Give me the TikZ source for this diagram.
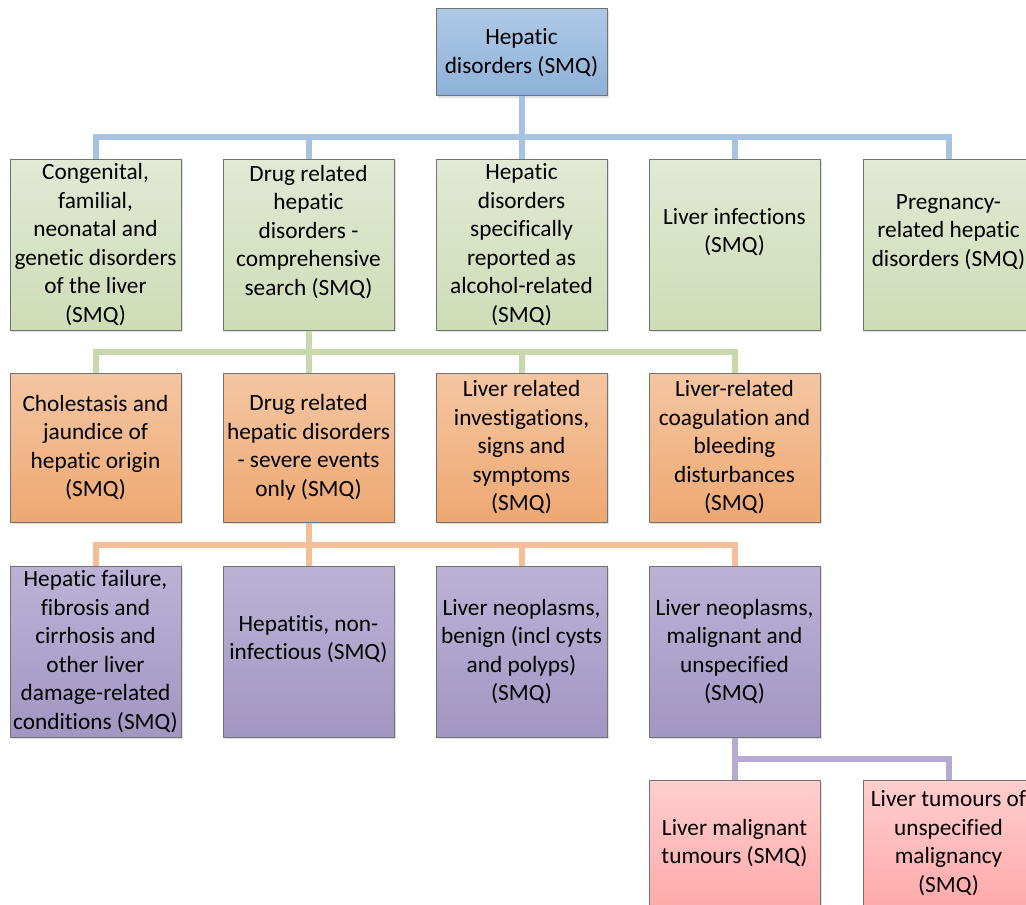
\documentclass[tikz,border=0pt]{standalone}
\usepackage{fontspec}
\setmainfont{Carlito}[Ligatures={NoCommon,NoContextual}]
\usepackage{tikz}
\usetikzlibrary{shadows}

\definecolor{bluetop}{RGB}{174,201,230}
\definecolor{bluebot}{RGB}{143,177,216}
\definecolor{blueline}{RGB}{166,196,226}
\definecolor{greentop}{RGB}{226,233,213}
\definecolor{greenbot}{RGB}{206,220,182}
\definecolor{greenline}{RGB}{201,216,170}
\definecolor{orangetop}{RGB}{245,198,162}
\definecolor{orangebot}{RGB}{237,168,114}
\definecolor{orangeline}{RGB}{245,190,150}
\definecolor{purpletop}{RGB}{188,178,214}
\definecolor{purplebot}{RGB}{162,150,194}
\definecolor{purpleline}{RGB}{180,170,210}
\definecolor{pinktop}{RGB}{255,206,206}
\definecolor{pinkbot}{RGB}{255,170,170}
\newcommand\smqfont{\fontsize{11.65}{14.25}\selectfont}

\begin{document}
\begin{tikzpicture}[x=0.5pt, y=-0.5pt, smq/.style={rectangle, draw=black!55, line width=0.5pt, align=center, inner sep=1pt, minimum width=85.5pt, font=\smqfont, drop shadow={shadow xshift=1.2pt, shadow yshift=-1.2pt, opacity=0.25}}, topbox/.style={smq, minimum height=43.5pt, top color=bluetop, bottom color=bluebot}, greenbox/.style={smq, minimum height=85.5pt, top color=greentop, bottom color=greenbot}, orangebox/.style={smq, minimum height=74.5pt, top color=orangetop, bottom color=orangebot}, purplebox/.style={smq, minimum height=85.5pt, top color=purpletop, bottom color=purplebot}, pinkbox/.style={smq, minimum height=63pt, top color=pinktop, bottom color=pinkbot}, link/.style={line width=3pt}]

    \useasboundingbox (0,0) rectangle (1026,904);

    %Nodes
    \node[topbox](hepatic) at (521.5,52.5){Hepatic\\disorders (SMQ)};

    \node[greenbox](congenital) at (95.5,244.5){Congenital,\\familial,\\neonatal and\\genetic disorders\\of the liver\\(SMQ)};
    \node[greenbox](drugcomp) at (308.5,244.5){Drug related\\hepatic\\disorders -\\comprehensive\\search (SMQ)\\\mbox{}};
    \node[greenbox](alcohol) at (521.5,244.5){Hepatic\\disorders\\specifically\\reported as\\alcohol-related\\(SMQ)};
    \node[greenbox](infections) at (734.5,244.5){Liver infections\\(SMQ)\\\mbox{}};
    \node[greenbox](pregnancy) at (948.5,244.5){Pregnancy-\\related hepatic\\disorders (SMQ)\\\mbox{}};

    \node[orangebox](cholestasis) at (95.5,447.5){Cholestasis and\\jaundice of\\hepatic origin\\(SMQ)};
    \node[orangebox](drugsevere) at (308.5,447.5){Drug related\\hepatic disorders\\- severe events\\only (SMQ)};
    \node[orangebox](investig) at (521.5,447.5){Liver related\\investigations,\\signs and\\symptoms\\(SMQ)};
    \node[orangebox](coagulation) at (734.5,447.5){Liver-related\\coagulation and\\bleeding\\disturbances\\(SMQ)};

    \node[purplebox](failure) at (95.5,651.5){Hepatic failure,\\fibrosis and\\cirrhosis and\\other liver\\damage-related\\conditions (SMQ)};
    \node[purplebox](hepatitis) at (308.5,651.5){Hepatitis, non-\\infectious (SMQ)\\\mbox{}};
    \node[purplebox](benign) at (521.5,651.5){Liver neoplasms,\\benign (incl cysts\\and polyps)\\(SMQ)};
    \node[purplebox](malignant) at (734.5,651.5){Liver neoplasms,\\malignant and\\unspecified\\(SMQ)};

    \node[pinkbox](tumours) at (734.5,843){Liver malignant\\tumours (SMQ)};
    \node[pinkbox](unspecified) at (948.5,843){Liver tumours of\\unspecified\\malignancy\\(SMQ)};

    %Lines
    \draw[link, blueline] (hepatic.south) -- ++(0,40) -| (congenital.north);
    \draw[link, blueline] (hepatic.south) -- ++(0,40) -| (drugcomp.north);
    \draw[link, blueline] (hepatic.south) -- (alcohol.north);
    \draw[link, blueline] (hepatic.south) -- ++(0,40) -| (infections.north);
    \draw[link, blueline] (hepatic.south) -- ++(0,40) -| (pregnancy.north);

    \draw[link, greenline] (drugcomp.south) -- ++(0,21) -| (cholestasis.north);
    \draw[link, greenline] (drugcomp.south) -- (drugsevere.north);
    \draw[link, greenline] (drugcomp.south) -- ++(0,21) -| (investig.north);
    \draw[link, greenline] (drugcomp.south) -- ++(0,21) -| (coagulation.north);

    \draw[link, orangeline] (drugsevere.south) -- ++(0,22) -| (failure.north);
    \draw[link, orangeline] (drugsevere.south) -- (hepatitis.north);
    \draw[link, orangeline] (drugsevere.south) -- ++(0,22) -| (benign.north);
    \draw[link, orangeline] (drugsevere.south) -- ++(0,22) -| (malignant.north);

    \draw[link, purpleline] (malignant.south) -- (tumours.north);
    \draw[link, purpleline] (malignant.south) -- ++(0,21) -| (unspecified.north);

\end{tikzpicture}
\end{document}
